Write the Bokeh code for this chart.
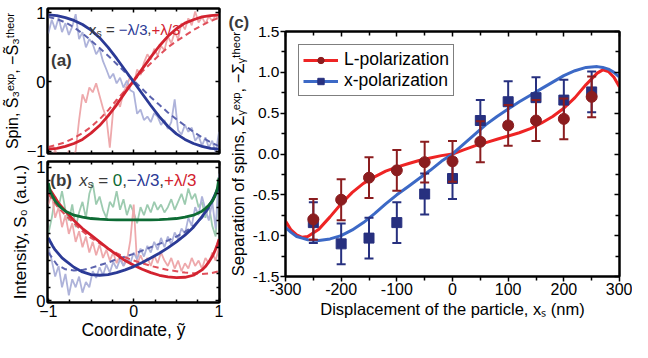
import math
from bokeh.plotting import figure
from bokeh.layouts import row, column
from bokeh.models import (Range1d, LinearAxis, FixedTicker, Label, Legend, LegendItem,
                          CustomJSTickFormatter, PrintfTickFormatter, Title)
from bokeh.embed import file_html
from bokeh.resources import INLINE

FONT = "Liberation Sans"

# ---------------- data: panel (a) ----------------
a_theory_x = [-1.0, -0.9, -0.8, -0.7, -0.6, -0.5, -0.4, -0.3, -0.2, -0.1, 0.0,
              0.1, 0.2, 0.3, 0.4, 0.5, 0.6, 0.7, 0.8, 0.9, 1.0]
a_blue_theory = [0.97, 0.96, 0.93, 0.89, 0.83, 0.75, 0.64, 0.50, 0.34, 0.17, 0.0,
                 -0.17, -0.34, -0.50, -0.64, -0.75, -0.83, -0.89, -0.93, -0.96, -0.97]
a_red_theory = [-0.97, -0.96, -0.93, -0.89, -0.83, -0.74, -0.63, -0.49, -0.33, -0.15, 0.02,
                0.19, 0.36, 0.52, 0.66, 0.77, 0.85, 0.90, 0.94, 0.96, 0.97]
a_blue_dash = [0.94, 0.91, 0.86, 0.79, 0.70, 0.60, 0.49, 0.38, 0.26, 0.14, 0.02,
               -0.10, -0.22, -0.33, -0.44, -0.54, -0.63, -0.72, -0.80, -0.87, -0.93]
a_red_dash = [-0.94, -0.91, -0.87, -0.81, -0.74, -0.65, -0.54, -0.41, -0.26, -0.12, 0.02,
              0.15, 0.27, 0.39, 0.50, 0.59, 0.67, 0.75, 0.82, 0.88, 0.93]

exp_x = [-1.0, -0.96, -0.92, -0.88, -0.84, -0.8, -0.76, -0.72, -0.68, -0.64, -0.6, -0.56,
         -0.52, -0.48, -0.44, -0.4, -0.36, -0.32, -0.28, -0.24, -0.2, -0.16, -0.12, -0.08,
         -0.04, 0.0, 0.04, 0.08, 0.12, 0.16, 0.2, 0.24, 0.28, 0.32, 0.36, 0.4, 0.44, 0.48,
         0.52, 0.56, 0.6, 0.64, 0.68, 0.72, 0.76, 0.8, 0.84, 0.88, 0.92, 0.96, 1.0]
a_blue_exp = [0.70, 0.90, 0.76, 0.93, 0.72, 0.85, 0.68, 0.80, 0.98, 0.62, 0.72, 0.50,
              0.62, 0.55, 0.40, 0.48, 0.30, 0.18, 0.05, 0.12, -0.02, 0.06, -0.08, 0.02,
              -0.12, -0.15, -0.46, -0.40, -0.55, -0.50, -0.58, -0.45, -0.50, -0.62, -0.55,
              -0.68, -0.58, -0.25, -0.70, -0.76, -0.62, -0.72, -0.66, -0.85, -0.78, -0.92,
              -0.80, -0.95, -0.85, -1.02, -0.72]
a_red_exp = [-1.02, -1.10, -0.98, -1.15, -1.04, -1.12, -0.99, -1.10, -1.00, -0.55, -0.18,
             -0.30, -0.08, -0.15, -0.02, -0.20, -0.38, -0.52, -0.95, -0.40, -0.25, -0.36,
             -0.15, -0.05, 0.08, -0.04, 0.18, 0.10, 0.28, 0.40, 0.32, 0.48, 0.38, 0.52,
             0.46, 0.66, 0.56, 0.72, 0.62, 0.85, 0.76, 0.92, 0.82, 1.02, 0.86, 0.94, 0.84,
             0.95, 0.88, 0.96, 0.90]

# ---------------- data: panel (b) ----------------
b_theory_x = [-1.0, -0.98, -0.95, -0.92, -0.88, -0.84, -0.8, -0.7, -0.6, -0.5, -0.4, -0.3,
              -0.2, -0.1, 0.0, 0.1, 0.2, 0.3, 0.4, 0.5, 0.6, 0.7, 0.8, 0.84, 0.88, 0.92,
              0.95, 0.98, 1.0]
b_green_theory = [0.88, 0.82, 0.78, 0.745, 0.715, 0.69, 0.67, 0.64, 0.625, 0.615, 0.61,
                  0.607, 0.605, 0.605, 0.605, 0.605, 0.605, 0.607, 0.61, 0.615, 0.625,
                  0.64, 0.67, 0.69, 0.715, 0.745, 0.78, 0.84, 0.92]
b_red_theory = [0.85, 0.83, 0.80, 0.77, 0.73, 0.70, 0.67, 0.60, 0.54, 0.49, 0.44, 0.39,
                0.345, 0.30, 0.265, 0.235, 0.21, 0.19, 0.178, 0.172, 0.175, 0.19, 0.23,
                0.255, 0.29, 0.33, 0.37, 0.42, 0.46]
b_blue_theory = [0.47, 0.445, 0.41, 0.38, 0.35, 0.32, 0.30, 0.25, 0.215, 0.195, 0.19,
                 0.195, 0.21, 0.23, 0.255, 0.285, 0.32, 0.355, 0.395, 0.44, 0.49, 0.55,
                 0.63, 0.665, 0.705, 0.75, 0.79, 0.83, 0.86]
b_dash_x = [-1.0, -0.9, -0.8, -0.7, -0.6, -0.5, -0.4, -0.3, -0.2, -0.1, 0.0,
            0.1, 0.2, 0.3, 0.4, 0.5, 0.6, 0.7, 0.8, 0.9, 1.0]
b_blue_dash = [0.36, 0.27, 0.235, 0.225, 0.23, 0.245, 0.265, 0.285, 0.31, 0.33, 0.35,
               0.375, 0.40, 0.425, 0.45, 0.48, 0.515, 0.56, 0.62, 0.71, 0.84]
b_red_dash = [0.80, 0.71, 0.64, 0.58, 0.52, 0.47, 0.43, 0.39, 0.355, 0.325, 0.30,
              0.28, 0.26, 0.245, 0.23, 0.22, 0.21, 0.205, 0.20, 0.205, 0.22]
b_green_exp = [0.50, 0.62, 0.78, 0.70, 0.82, 0.68, 0.60, 0.72, 0.55, 0.66, 0.74, 0.62,
               0.80, 0.88, 0.72, 0.78, 0.68, 0.62, 0.74, 0.70, 0.82, 0.68, 0.76, 0.64,
               0.72, 0.66, 0.58, 0.70, 0.64, 0.72, 0.66, 0.74, 0.68, 0.72, 0.66, 0.70,
               0.76, 0.68, 0.74, 0.80, 0.72, 0.84, 0.76, 0.80, 0.70, 0.74, 0.62, 0.72,
               0.56, 0.48, 0.95]
b_red_exp = [0.72, 0.80, 0.62, 0.70, 0.55, 0.64, 0.50, 0.58, 0.44, 0.52, 0.40, 0.48,
             0.36, 0.44, 0.34, 0.42, 0.32, 0.38, 0.30, 0.36, 0.28, 0.34, 0.26, 0.30,
             0.45, 0.72, 0.27, 0.34, 0.28, 0.32, 0.26, 0.34, 0.28, 0.36, 0.30, 0.26,
             0.32, 0.24, 0.30, 0.22, 0.28, 0.24, 0.32, 0.26, 0.30, 0.24, 0.32, 0.28,
             0.36, 0.30, 0.40]
b_blue_exp = [0.40, 0.30, 0.18, 0.26, 0.10, 0.20, 0.04, 0.16, 0.10, 0.18, 0.06, 0.14,
              0.10, 0.22, 0.17, 0.25, 0.19, 0.27, 0.21, 0.29, 0.24, 0.31, 0.26, 0.33,
              0.28, 0.36, 0.31, 0.39, 0.33, 0.41, 0.36, 0.44, 0.38, 0.47, 0.40, 0.48,
              0.42, 0.51, 0.46, 0.54, 0.50, 0.62, 0.56, 0.70, 0.64, 0.78, 0.68, 0.60,
              0.74, 0.54, 0.95]

# ---------------- data: panel (c) ----------------
c_x = [-250, -200, -150, -100, -50, 0, 50, 100, 150, 200, 250]
c_L = [-0.80, -0.56, -0.29, -0.20, -0.10, -0.09, 0.15, 0.35, 0.41, 0.43, 0.70]
c_L_err = [0.25, 0.25, 0.25, 0.25, 0.25, 0.25, 0.25, 0.25, 0.25, 0.25, 0.25]
c_X = [-0.84, -1.10, -1.03, -0.84, -0.49, -0.30, 0.41, 0.64, 0.69, 0.66, 0.76]
c_X_err = [0.25, 0.25, 0.25, 0.25, 0.25, 0.25, 0.25, 0.25, 0.25, 0.25, 0.25]
c_theory_x = [-300, -290, -280, -270, -260, -240, -220, -200, -180, -160, -140, -120,
              -100, -80, -60, -40, -20, 0, 20, 40, 60, 80, 100, 120, 140, 160, 180,
              200, 220, 240, 260, 270, 280, 290, 300]
c_L_theory = [-0.82, -0.93, -0.99, -1.02, -1.01, -0.92, -0.77, -0.61, -0.47, -0.36,
              -0.28, -0.21, -0.16, -0.12, -0.08, -0.05, -0.02, 0.0, 0.05, 0.10, 0.14,
              0.18, 0.22, 0.26, 0.31, 0.38, 0.46, 0.56, 0.69, 0.85, 0.99, 1.03, 1.01,
              0.94, 0.82]
c_X_theory = [-0.90, -0.96, -1.01, -1.03, -1.05, -1.06, -1.04, -1.00, -0.93, -0.84,
              -0.73, -0.61, -0.50, -0.40, -0.30, -0.20, -0.09, 0.0, 0.12, 0.24, 0.36,
              0.46, 0.55, 0.64, 0.72, 0.80, 0.88, 0.96, 1.02, 1.06, 1.07, 1.06, 1.04,
              1.00, 0.94]
c_labels = ["L-polarization", "x-polarization"]

# ---------------- colours ----------------
BLUE = "#2B3A96"; RED = "#D3222F"; GREEN = "#0D6B34"
BLUE_D = "#5B63AE"; RED_D = "#E0505B"
BLUE_N = "#AEB3DA"; RED_N = "#EEA9AC"; GREEN_N = "#9DCBB0"
C_RED = "#EE2424"; C_BLUE = "#3C69C6"; C_LMARK = "#8B1D1F"; C_XMARK = "#27307F"
DARK = "#3A3A3A"

# Arial / Liberation Sans advance widths (1/1000 em)
AW = {' ': 278, '(': 333, ')': 333, ',': 278, '-': 333, '.': 278, '/': 278, '=': 584,
      '+': 584, '\u2212': 584, '\u03bb': 500, '\u03a3': 600, '\u0303': 0}
for ch in "0123456789":
    AW[ch] = 556
AW.update(dict(zip("abcdefghijklmnopqrstuvwxyz",
                   [556, 556, 500, 556, 556, 278, 556, 556, 222, 222, 500, 222, 833,
                    556, 556, 556, 556, 333, 500, 278, 556, 500, 722, 500, 500, 500])))


def tw(s, size):
    return sum(AW.get(c, 556) for c in s) * size / 1000.0


class Geo:
    def __init__(self, w, h, l, r, t, b, xr, yr):
        self.w, self.h, self.l, self.r, self.t, self.b = w, h, l, r, t, b
        self.xr, self.yr = xr, yr

    def data(self, px, py):
        fw = self.w - self.l - self.r
        fh = self.h - self.t - self.b
        x = self.xr[0] + (px - self.l) / fw * (self.xr[1] - self.xr[0])
        y = self.yr[1] - (py - self.t) / fh * (self.yr[1] - self.yr[0])
        return x, y


def make_fig(g):
    p = figure(width=g.w, height=g.h, x_range=Range1d(*g.xr), y_range=Range1d(*g.yr),
               output_backend="svg", toolbar_location=None,
               min_border_left=g.l, min_border_right=g.r,
               min_border_top=g.t, min_border_bottom=g.b)
    p.xgrid.visible = False
    p.ygrid.visible = False
    p.outline_line_color = "black"
    p.outline_line_width = 2
    p.background_fill_color = "white"
    p.border_fill_color = "white"
    return p


def style_axis(ax, ticker, fsize, tick_len, inward, formatter=None, standoff=2):
    ax.ticker = ticker
    ax.axis_line_width = 2
    ax.axis_line_color = "black"
    ax.major_tick_line_width = 1.5
    ax.minor_tick_line_width = 1.5
    if inward:
        ax.major_tick_in = tick_len
        ax.major_tick_out = 0
        ax.minor_tick_in = tick_len - 1
        ax.minor_tick_out = 0
    else:
        ax.major_tick_in = 0
        ax.major_tick_out = tick_len
        ax.minor_tick_in = 0
        ax.minor_tick_out = tick_len - 1
    if formatter is None:
        ax.formatter = CustomJSTickFormatter(code="return ''")
        ax.major_label_text_font_size = "0px"
        ax.major_label_standoff = 0
    else:
        ax.formatter = formatter
        ax.major_label_text_font = FONT
        ax.major_label_text_font_size = f"{fsize}px"
        ax.major_label_text_color = "black"
        ax.major_label_standoff = standoff


def axis_title(ax, text, size, standoff):
    ax.axis_label = text
    ax.axis_label_text_font = FONT
    ax.axis_label_text_font_size = f"{size}px"
    ax.axis_label_text_font_style = "normal"
    ax.axis_label_text_color = "black"
    ax.axis_label_standoff = standoff


def put(p, g, px, py, txt, size, color, style):
    x, y = g.data(px, py)
    p.add_layout(Label(x=x, y=y, text=txt, text_font=FONT,
                       text_font_size=f"{size}px", text_color=color,
                       text_font_style=style, text_baseline="alphabetic",
                       text_align="left"))


def rich(p, g, px, py, pieces):
    adv = 0.0
    for (txt, size, color, style, shift) in pieces:
        body = txt.lstrip(' ')
        lead = tw(txt[:len(txt) - len(body)], size)
        body = body.rstrip(' ')
        put(p, g, px + adv + lead, py - shift, body, size, color, style)
        adv += tw(txt, size)


MINUS_FMT = CustomJSTickFormatter(code="return tick < 0 ? '\u2212' + Math.abs(tick) : String(tick)")

# ================= panel (a) =================
ga = Geo(225, 159, 46, 6, 8, 6, (-1.01, 1.005), (-1.034, 1.062))
pa = make_fig(ga)
xt_ab = FixedTicker(ticks=[-1, 0, 1], minor_ticks=[-0.75, -0.5, -0.25, 0.25, 0.5, 0.75])
yt_a = FixedTicker(ticks=[-1, 0, 1], minor_ticks=[-0.5, 0.5])
style_axis(pa.xaxis[0], xt_ab, 16.5, 4, True)
style_axis(pa.yaxis[0], yt_a, 16.5, 4, True, MINUS_FMT, 2)
axis_title(pa.yaxis[0], "Spin, S\u0303\u2083\u1d49\u02e3\u1d56, \u2212S\u0303\u2083\u1d57\u02b0\u1d49\u1d52\u02b3", 16, 3)
ta = LinearAxis(); style_axis(ta, xt_ab, 16, 4, True); pa.add_layout(ta, "above")
ra = LinearAxis(); style_axis(ra, yt_a, 16, 4, True); pa.add_layout(ra, "right")

pa.line(exp_x, a_red_exp, line_color=RED_N, line_width=1.8)
pa.line(exp_x, a_blue_exp, line_color=BLUE_N, line_width=1.8)
pa.line(a_theory_x, a_red_dash, line_color=RED_D, line_width=2, line_dash="6 4")
pa.line(a_theory_x, a_blue_dash, line_color=BLUE_D, line_width=2, line_dash="6 4")
pa.line(a_theory_x, a_red_theory, line_color=RED, line_width=2.8)
pa.line(a_theory_x, a_blue_theory, line_color=BLUE, line_width=2.8)

put(pa, ga, 49.5, 60, "(a)", 17, DARK, "bold")
rich(pa, ga, 87.8, 28.5, [
    ("x", 15, DARK, "normal", 0),
    ("s", 10.5, DARK, "normal", -3.5),
    (" = ", 15, DARK, "normal", 0),
    ("\u2212\u03bb/3", 15, BLUE, "normal", 0),
    (",", 15, DARK, "normal", 0),
    ("+\u03bb/3", 15, RED, "normal", 0)])

# ================= panel (b) =================
gb = Geo(225, 183, 46, 6, 2, 38, (-1.01, 1.005), (-0.014, 1.042))
pb = make_fig(gb)
yt_b = FixedTicker(ticks=[0, 1], minor_ticks=[0.1, 0.2, 0.3, 0.4, 0.5, 0.6, 0.7, 0.8, 0.9])
style_axis(pb.xaxis[0], xt_ab, 16, 4, True, MINUS_FMT, 2)
style_axis(pb.yaxis[0], yt_b, 16.5, 4, True, MINUS_FMT, 2)
axis_title(pb.xaxis[0], "Coordinate, y\u0303", 17.5, 0)
axis_title(pb.yaxis[0], "Intensity, S\u2080 (a.u.)", 17, 3)
tb = LinearAxis(); style_axis(tb, xt_ab, 16, 4, True); pb.add_layout(tb, "above")
rb_ = LinearAxis(); style_axis(rb_, yt_b, 16, 4, True); pb.add_layout(rb_, "right")

pb.line(exp_x, b_green_exp, line_color=GREEN_N, line_width=1.8)
pb.line(exp_x, b_red_exp, line_color=RED_N, line_width=1.8)
pb.line(exp_x, b_blue_exp, line_color=BLUE_N, line_width=1.8)
pb.line(b_dash_x, b_red_dash, line_color=RED_D, line_width=2, line_dash="6 4")
pb.line(b_dash_x, b_blue_dash, line_color=BLUE_D, line_width=2, line_dash="6 4")
pb.line(b_theory_x, b_red_theory, line_color=RED, line_width=2.8)
pb.line(b_theory_x, b_blue_theory, line_color=BLUE, line_width=2.8)
pb.line(b_theory_x, b_green_theory, line_color=GREEN, line_width=2.8)

put(pb, gb, 48.8, 21, "(b)", 17, DARK, "bold")
rich(pb, gb, 78, 21, [
    ("x", 17, DARK, "italic", 0),
    ("s", 11.5, DARK, "normal", -4),
    (" = ", 17, DARK, "normal", 0),
    ("0", 17, GREEN, "normal", 0),
    (",", 17, DARK, "normal", 0),
    ("\u2212\u03bb/3", 17, BLUE, "normal", 0),
    (",", 17, DARK, "normal", 0),
    ("+\u03bb/3", 17, RED, "normal", 0)])

# ================= panel (c) =================
gc = Geo(407, 342, 58, 13, 31, 66, (-300, 300), (-1.5, 1.5))
pc = make_fig(gc)
xt_c = FixedTicker(ticks=[-300, -200, -100, 0, 100, 200, 300],
                   minor_ticks=[-250, -150, -50, 50, 150, 250])
yt_c = FixedTicker(ticks=[-1.5, -1.0, -0.5, 0.0, 0.5, 1.0, 1.5],
                   minor_ticks=[-1.25, -0.75, -0.25, 0.25, 0.75, 1.25])
style_axis(pc.xaxis[0], xt_c, 16, 5, False, CustomJSTickFormatter(code="return tick.toFixed(0)"), 1)
style_axis(pc.yaxis[0], yt_c, 15.5, 5, False, PrintfTickFormatter(format="%.1f"), 1)
axis_title(pc.xaxis[0], "Displacement of the particle, x\u209b (nm)", 16.5, 2)
axis_title(pc.yaxis[0], "Separation of spins, \u03a3\u1d67\u1d49\u02e3\u1d56, \u2212\u03a3\u1d67\u1d57\u02b0\u1d49\u1d52\u02b3", 16.5, 3)
tc = LinearAxis(); style_axis(tc, xt_c, 16, 5, True); pc.add_layout(tc, "above")
rc = LinearAxis(); style_axis(rc, yt_c, 16, 5, True); pc.add_layout(rc, "right")
pc.add_layout(Title(text="(c)", align="left", offset=-57, standoff=0,
                    text_font=FONT, text_font_size="17px", text_font_style="bold",
                    text_color=DARK, vertical_align="bottom"), "above")

r_red = pc.line(c_theory_x, c_L_theory, line_color=C_RED, line_width=3)
r_blue = pc.line(c_theory_x, c_X_theory, line_color=C_BLUE, line_width=3)

x_lo = [v - e for v, e in zip(c_X, c_X_err)]
x_hi = [v + e for v, e in zip(c_X, c_X_err)]
l_lo = [v - e for v, e in zip(c_L, c_L_err)]
l_hi = [v + e for v, e in zip(c_L, c_L_err)]
pc.segment(c_x, x_lo, c_x, x_hi, line_color=C_XMARK, line_width=2)
pc.scatter(c_x, x_lo, marker="dash", size=9, line_color=C_XMARK, line_width=2)
pc.scatter(c_x, x_hi, marker="dash", size=9, line_color=C_XMARK, line_width=2)
s_x = pc.scatter(c_x, c_X, marker="square", size=10, fill_color=C_XMARK,
                 line_color=C_XMARK, line_width=1)
pc.segment(c_x, l_lo, c_x, l_hi, line_color=C_LMARK, line_width=2)
pc.scatter(c_x, l_lo, marker="dash", size=9, line_color=C_LMARK, line_width=2)
pc.scatter(c_x, l_hi, marker="dash", size=9, line_color=C_LMARK, line_width=2)
s_l = pc.scatter(c_x, c_L, marker="circle", size=11, fill_color=C_LMARK,
                 line_color=C_LMARK, line_width=1)

legend = Legend(items=[LegendItem(label=c_labels[0], renderers=[r_red, s_l]),
                       LegendItem(label=c_labels[1], renderers=[r_blue, s_x])],
                location="top_left", margin=13, padding=4, spacing=0,
                glyph_width=35, glyph_height=16, label_height=16, label_standoff=6,
                label_text_font=FONT, label_text_font_size="17.5px",
                label_text_color="black", border_line_color="black",
                border_line_width=1.5, background_fill_color="white",
                background_fill_alpha=1.0)
pc.add_layout(legend)

layout = row(column(pa, pb), pc)
open("out.html", "w").write(file_html(layout, INLINE))
